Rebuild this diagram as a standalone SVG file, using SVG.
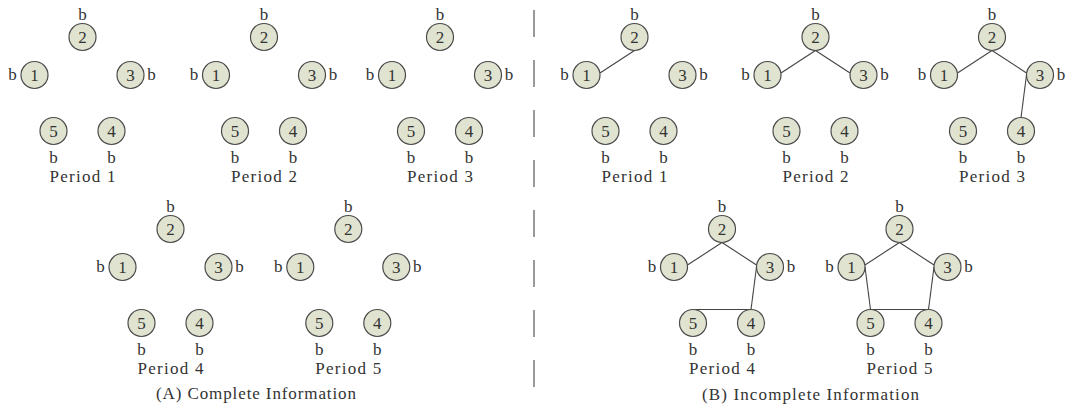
<svg xmlns="http://www.w3.org/2000/svg" width="1066" height="410" viewBox="0 0 1066 410">
<style>
text{font-family:"Liberation Serif","DejaVu Serif",serif;font-size:17px;fill:#333;text-anchor:middle}
.nc{fill:#dfe3d0;stroke:#4a4a4a;stroke-width:1.2}
.e line{stroke:#444;stroke-width:1.1}
.div{stroke:#9a9a9a;stroke-width:2;stroke-dasharray:27 23}
</style>
<defs>
<g id="n1t"><circle class="nc" cx="-48" cy="75" r="13.5"/><text x="-48" y="80.5">1</text><text x="-70" y="80">b</text></g>
<g id="n2t"><circle class="nc" cx="0" cy="37" r="13.5"/><text x="0" y="42.5">2</text><text x="0" y="19.5">b</text></g>
<g id="n3t"><circle class="nc" cx="48" cy="75" r="13.5"/><text x="48" y="80.5">3</text><text x="69" y="80">b</text></g>
<g id="n4t"><circle class="nc" cx="29" cy="131" r="13.5"/><text x="29" y="136.5">4</text><text x="29" y="163">b</text></g>
<g id="n5t"><circle class="nc" cx="-29" cy="131" r="13.5"/><text x="-29" y="136.5">5</text><text x="-29" y="163">b</text></g>
</defs>
<line class="div" x1="534" y1="10" x2="534" y2="410"/>
<g id="connectors" class="e">
<g transform="translate(634.5,0)"><line x1="0" y1="50.5" x2="-34.5" y2="73"/></g>
<g transform="translate(815.5,0)"><line x1="0" y1="50.5" x2="-34.5" y2="73"/><line x1="0" y1="50.5" x2="34.5" y2="73"/></g>
<g transform="translate(992,0)"><line x1="0" y1="50.5" x2="-34.5" y2="73"/><line x1="0" y1="50.5" x2="34.5" y2="73"/><line x1="34.5" y1="75" x2="29" y2="117.5"/></g>
<g transform="translate(722,192)"><line x1="0" y1="50.5" x2="-34.5" y2="73"/><line x1="0" y1="50.5" x2="34.5" y2="73"/><line x1="34.5" y1="75" x2="29" y2="117.5"/><line x1="-29" y1="117.5" x2="29" y2="117.5"/></g>
<g transform="translate(899.5,192)"><line x1="0" y1="50.5" x2="-34.5" y2="73"/><line x1="0" y1="50.5" x2="34.5" y2="73"/><line x1="34.5" y1="75" x2="29" y2="117.5"/><line x1="-29" y1="117.5" x2="29" y2="117.5"/><line x1="-34.5" y1="75" x2="-29" y2="117.5"/></g>
</g>
<g id="A1" transform="translate(82.5,0)"><g id="A1n1"><use href="#n1t"/></g><g id="A1n2"><use href="#n2t"/></g><g id="A1n3"><use href="#n3t"/></g><g id="A1n4"><use href="#n4t"/></g><g id="A1n5"><use href="#n5t"/></g><text x="0" y="182" textLength="66">Period 1</text></g>
<g id="A2" transform="translate(264,0)"><g id="A2n1"><use href="#n1t"/></g><g id="A2n2"><use href="#n2t"/></g><g id="A2n3"><use href="#n3t"/></g><g id="A2n4"><use href="#n4t"/></g><g id="A2n5"><use href="#n5t"/></g><text x="0" y="182" textLength="66">Period 2</text></g>
<g id="A3" transform="translate(440,0)"><g id="A3n1"><use href="#n1t"/></g><g id="A3n2"><use href="#n2t"/></g><g id="A3n3"><use href="#n3t"/></g><g id="A3n4"><use href="#n4t"/></g><g id="A3n5"><use href="#n5t"/></g><text x="0" y="182" textLength="66">Period 3</text></g>
<g id="A4" transform="translate(170.5,192)"><g id="A4n1"><use href="#n1t"/></g><g id="A4n2"><use href="#n2t"/></g><g id="A4n3"><use href="#n3t"/></g><g id="A4n4"><use href="#n4t"/></g><g id="A4n5"><use href="#n5t"/></g><text x="0" y="182" textLength="66">Period 4</text></g>
<g id="A5" transform="translate(348.3,192)"><g id="A5n1"><use href="#n1t"/></g><g id="A5n2"><use href="#n2t"/></g><g id="A5n3"><use href="#n3t"/></g><g id="A5n4"><use href="#n4t"/></g><g id="A5n5"><use href="#n5t"/></g><text x="0" y="182" textLength="66">Period 5</text></g>
<g id="B1" transform="translate(634.5,0)"><g id="B1n1"><use href="#n1t"/></g><g id="B1n2"><use href="#n2t"/></g><g id="B1n3"><use href="#n3t"/></g><g id="B1n4"><use href="#n4t"/></g><g id="B1n5"><use href="#n5t"/></g><text x="0" y="182" textLength="66">Period 1</text></g>
<g id="B2" transform="translate(815.5,0)"><g id="B2n1"><use href="#n1t"/></g><g id="B2n2"><use href="#n2t"/></g><g id="B2n3"><use href="#n3t"/></g><g id="B2n4"><use href="#n4t"/></g><g id="B2n5"><use href="#n5t"/></g><text x="0" y="182" textLength="66">Period 2</text></g>
<g id="B3" transform="translate(992,0)"><g id="B3n1"><use href="#n1t"/></g><g id="B3n2"><use href="#n2t"/></g><g id="B3n3"><use href="#n3t"/></g><g id="B3n4"><use href="#n4t"/></g><g id="B3n5"><use href="#n5t"/></g><text x="0" y="182" textLength="66">Period 3</text></g>
<g id="B4" transform="translate(722,192)"><g id="B4n1"><use href="#n1t"/></g><g id="B4n2"><use href="#n2t"/></g><g id="B4n3"><use href="#n3t"/></g><g id="B4n4"><use href="#n4t"/></g><g id="B4n5"><use href="#n5t"/></g><text x="0" y="182" textLength="66">Period 4</text></g>
<g id="B5" transform="translate(899.5,192)"><g id="B5n1"><use href="#n1t"/></g><g id="B5n2"><use href="#n2t"/></g><g id="B5n3"><use href="#n3t"/></g><g id="B5n4"><use href="#n4t"/></g><g id="B5n5"><use href="#n5t"/></g><text x="0" y="182" textLength="66">Period 5</text></g>
<text x="256" y="399" textLength="200">(A) Complete Information</text>
<text x="810.5" y="400" textLength="217">(B) Incomplete Information</text>
</svg>
